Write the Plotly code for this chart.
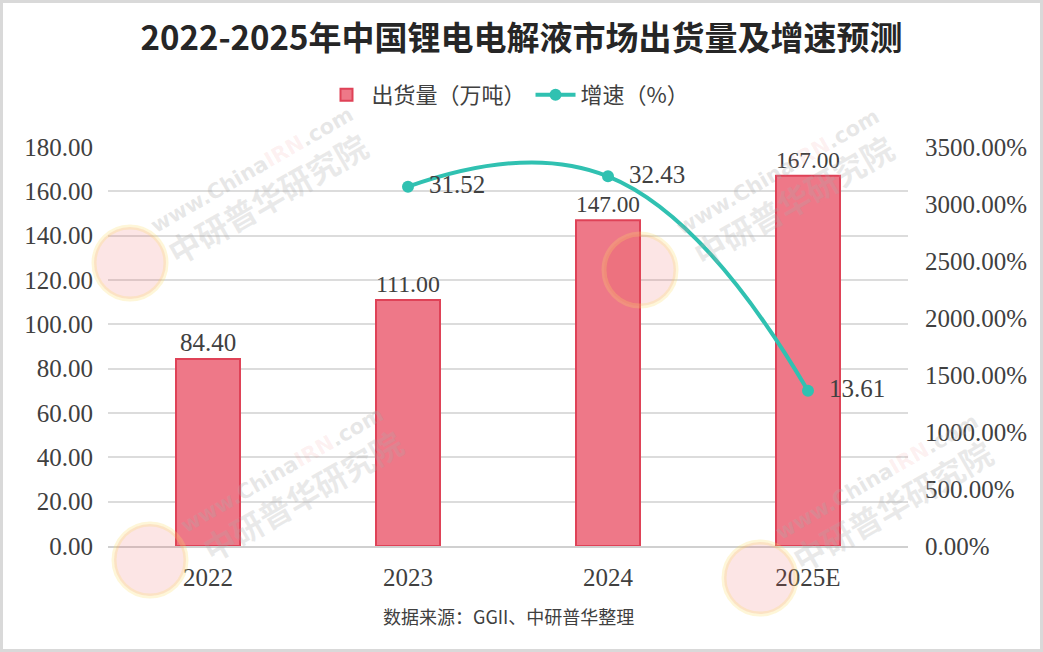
import plotly.graph_objects as go

categories = ["2022", "2023", "2024", "2025E"]
shipments = [84.40, 111.00, 147.00, 167.00]
growth_years = ["2023", "2024", "2025E"]
growth = [31.52, 32.43, 13.61]
left_ticks = [0, 20, 40, 60, 80, 100, 120, 140, 160, 180]
right_ticks = [0, 5, 10, 15, 20, 25, 30, 35]

NUM_FONT = "Liberation Serif, Noto Sans CJK SC"
CJK_FONT = "Noto Sans CJK SC"
TXT = "#404040"

fig = go.Figure()
fig.add_trace(go.Bar(
    x=categories, y=shipments, name="出货量（万吨）",
    marker=dict(color="#ee7888", line=dict(color="#df4257", width=2)),
    width=0.32,
    text=[f"{v:.2f}" for v in shipments], textposition="outside",
    textfont=dict(family=NUM_FONT, size=25, color=TXT),
    cliponaxis=False,
))
fig.add_trace(go.Scatter(
    x=growth_years, y=growth, name="增速（%）", yaxis="y2",
    mode="lines+markers+text",
    line=dict(color="#30c1b1", width=4, shape="spline", smoothing=1.3),
    marker=dict(size=12, color="#30c1b1"),
    text=["  " + f"{v:.2f}" for v in growth], textposition="middle right",
    textfont=dict(family=NUM_FONT, size=25, color=TXT),
    cliponaxis=False,
))

W, H = 1043, 652
ml, mr, mt, mb = 108, 135, 147, 106
pw, ph = W - ml - mr, H - mt - mb

def px(x):
    return (x - ml) / pw

def py(y):
    return (H - mb - y) / ph

fig.update_layout(
    width=W, height=H,
    margin=dict(l=ml, r=mr, t=mt, b=mb),
    paper_bgcolor="white", plot_bgcolor="white",
    title=dict(text="<b>2022-2025年中国锂电电解液市场出货量及增速预测</b>",
               x=0.5, xanchor="center", y=1 - 38 / H, yanchor="middle",
               font=dict(family=CJK_FONT, size=33, color="#262626")),
    legend=dict(orientation="h", x=0.5, xanchor="center",
                y=1 - 95 / H, yref="container", yanchor="middle",
                font=dict(family=CJK_FONT, size=22, color=TXT),
                itemwidth=40, traceorder="normal"),
    xaxis=dict(type="category", showgrid=False, showline=True,
               linecolor="#d0d0d0", linewidth=2, ticks="",
               ticklabelstandoff=8,
               tickfont=dict(family=NUM_FONT, size=25, color=TXT)),
    yaxis=dict(range=[0, 180], tickvals=left_ticks, tickformat=".2f",
               showgrid=True, gridcolor="#dcdcdc", gridwidth=1.5,
               zeroline=False, ticks="", ticklabelstandoff=14,
               tickfont=dict(family=NUM_FONT, size=25, color=TXT)),
    yaxis2=dict(range=[0, 35], tickvals=right_ticks, tickformat=".2%",
                overlaying="y", side="right", showgrid=False,
                zeroline=False, ticks="", ticklabelstandoff=16,
                tickfont=dict(family=NUM_FONT, size=25, color=TXT)),
    showlegend=True,
)

fig.add_annotation(text="数据来源：GGII、中研普华整理", xref="paper", yref="paper",
                   x=px(508), y=py(616), showarrow=False,
                   xanchor="center", yanchor="middle",
                   font=dict(family=CJK_FONT, size=18, color=TXT))

# faint watermarks
marks = [((130, 263), (252, 170), (267, 198)),
         ((640, 270), (778, 172), (793, 200)),
         ((150, 560), (282, 470), (302, 495)),
         ((760, 578), (877, 477), (892, 505))]
for (cx, cy), (ux, uy), (tx, ty) in marks:
    r = 36
    fig.add_shape(type="circle", xref="paper", yref="paper",
                  x0=px(cx - r), x1=px(cx + r), y0=py(cy + r), y1=py(cy - r),
                  fillcolor="rgba(235,80,80,0.15)",
                  line=dict(color="rgba(250,220,100,0.25)", width=5),
                  layer="above")
    fig.add_annotation(
        text="<b>www.China<span style='color:rgba(235,110,110,0.35)'>IRN</span>.com</b>",
        xref="paper", yref="paper", x=px(ux), y=py(uy), showarrow=False,
        xanchor="center", yanchor="middle",
        textangle=-30, font=dict(family="DejaVu Sans", size=21,
                                 color="rgba(170,170,170,0.28)"))
    fig.add_annotation(
        text="<b>中研普华研究院</b>", xref="paper", yref="paper",
        x=px(tx), y=py(ty), showarrow=False, textangle=-30,
        xanchor="center", yanchor="middle",
        font=dict(family=CJK_FONT, size=32, color="rgba(170,170,170,0.25)"))

fig.add_shape(type="rect", xref="paper", yref="paper",
              x0=px(1.5), x1=px(W - 1.5), y0=py(H - 1.5), y1=py(1.5),
              line=dict(color="#d9d9d9", width=3), layer="below")

fig.write_html("out.html", config={"displayModeBar": False},
               post_script="document.body.style.margin='0px';")
